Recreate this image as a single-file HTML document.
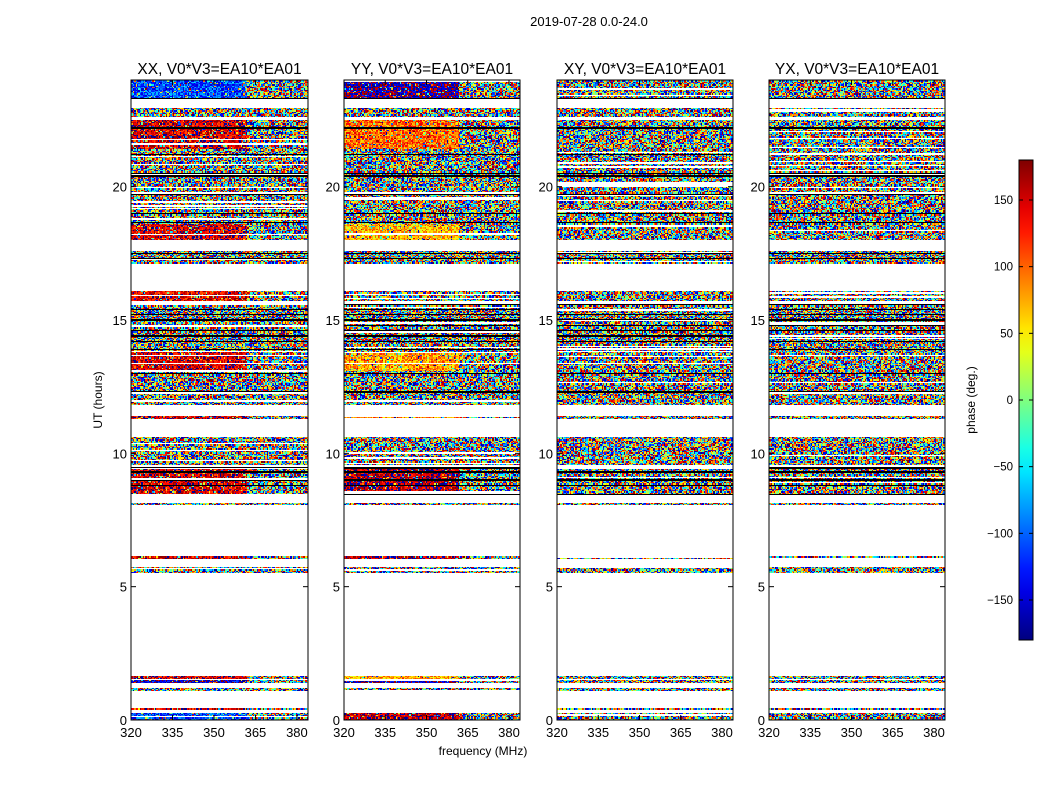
<!DOCTYPE html>
<html><head><meta charset="utf-8">
<style>
body{margin:0;background:#fff;width:1050px;height:800px;overflow:hidden;font-family:"Liberation Sans",sans-serif}
#wrap{position:relative;width:1050px;height:800px}
canvas{position:absolute;image-rendering:pixelated}
svg{position:absolute;left:0;top:0}
text{font-family:"Liberation Sans",sans-serif;fill:#000}
</style></head><body>
<div id="wrap">
<canvas id="c0" width="177" height="640" style="left:131px;top:80px;width:177px;height:640px"></canvas>
<canvas id="c1" width="176" height="640" style="left:344px;top:80px;width:176px;height:640px"></canvas>
<canvas id="c2" width="176" height="640" style="left:557px;top:80px;width:176px;height:640px"></canvas>
<canvas id="c3" width="176" height="640" style="left:769px;top:80px;width:176px;height:640px"></canvas>
<svg id="s" width="1050" height="800"></svg>
</div>
<script>
const panelTitles=["XX, V0*V3=EA10*EA01","YY, V0*V3=EA10*EA01","XY, V0*V3=EA10*EA01","YX, V0*V3=EA10*EA01"];
const panelX=[131,344,557,769];
const panelW=[177,176,176,176];
const yTicks=[0,5,10,15,20];
const xTicks=[320,335,350,365,380];
const cbTicks=[150,100,50,0,-50,-100,-150];
// segments: [startHour, endHour, XX coherent phase, YY coherent phase] (null = noise)
const segStart=[0.0,0.37,1.1,1.4,1.55,5.5,6.05,8.05,8.45,9.55,11.3,11.8,13.1,13.8,15.7,17.1,18.0,18.6,21.4,22.6,23.3];
const segEnd=[0.27,0.45,1.2,1.5,1.65,5.75,6.15,8.15,9.5,10.6,11.4,13.1,13.8,15.6,16.1,17.6,18.6,21.4,22.5,22.95,24.0];
const segXX=[-110,150,null,-150,150,null,150,null,150,null,150,null,150,null,140,null,150,null,150,null,-110];
const segYY=[160,-160,null,-160,70,null,160,null,160,null,80,null,80,null,null,null,70,null,100,null,-170];
const blackLines=[5.5,6.0,8.45,8.8,9.0,9.3,9.45,11.8,12.3,13.0,13.9,14.2,14.4,14.6,14.8,15.0,15.2,15.4,15.6,17.3,17.5,18.65,19.0,19.7,20.4,20.5,21.2,22.2,23.3];
const tMin=0,tMax=24,fMin=320,fMax=384;
const yScale=h=>720-(h-tMin)/(tMax-tMin)*640;

function jet(v){
  const f=x=>Math.max(0,Math.min(1,x));
  const r=f(1.5-Math.abs(4*v-3)),g=f(1.5-Math.abs(4*v-2)),b=f(1.5-Math.abs(4*v-1));
  return [r*255|0,g*255|0,b*255|0];
}
function hash(a,b,c){let h=(a*374761393+b*668265263+c*2147483647)|0;h=(h^(h>>>13))*1274126177|0;h^=h>>>16;return ((h>>>0)%100000)/100000;}

for(let p=0;p<4;p++){
  const cv=document.getElementById('c'+p),ctx=cv.getContext('2d');
  const W=cv.width,H=640,img=ctx.createImageData(W,H);
  for(let y=0;y<H;y++){
    const hr=tMax-(y+0.5)/H*(tMax-tMin);
    let si=-1;for(let i=0;i<segStart.length;i++)if(hr>=segStart[i]&&hr<segEnd[i])si=i;
    const row=Math.floor(y/1.3);
    const isBlack=blackLines.some(b=>Math.abs(b-hr)<0.025);
    const whiteRow=si>=0&&hash(row,p,7)<0.08;
    for(let x=0;x<W;x++){
      let col=[255,255,255];
      if(si>=0&&!whiteRow){
        if(isBlack){col=[0,0,0];}
        else{
          const ch=Math.floor(x/1.38);
          const freq=fMin+(x+0.5)/W*(fMax-fMin);
          const ph=p===0?segXX[si]:p===1?segYY[si]:null;
          let val;
          if(ph!==null&&freq<362){val=ph+(hash(ch,row,p)-0.5)*90;if(hash(ch,row,p+9)<0.15)val=(hash(ch,row,3)-0.5)*360;}
          else val=(hash(ch,row,p+1)-0.5)*360;
          if(val>180)val-=360;if(val<-180)val+=360;
          col=jet((val+180)/360);
        }
      }
      const k=(y*W+x)*4;img.data[k]=col[0];img.data[k+1]=col[1];img.data[k+2]=col[2];img.data[k+3]=255;
    }
  }
  ctx.putImageData(img,0,0);
}

const s=document.getElementById('s');
function el(tag,attrs,txt){const e=document.createElementNS('http://www.w3.org/2000/svg',tag);for(const k in attrs)e.setAttribute(k,attrs[k]);if(txt!==undefined)e.textContent=txt;s.appendChild(e);return e;}
let t=el('text',{x:589,y:26,'font-size':13,'text-anchor':'middle'},'2019-07-28 0.0-24.0');


for(let p=0;p<4;p++){
  const x0=panelX[p],w=panelW[p],xS=f=>x0+(f-fMin)/(fMax-fMin)*w;
  let r=el('rect',{x:x0,y:80,width:w,height:640,fill:'none',stroke:'#000','stroke-width':1});
  
  
  let tt=el('text',{x:x0+w/2,y:74,'font-size':15.5,'text-anchor':'middle'},panelTitles[p]);
  
  
  yTicks.forEach(v=>{const y=yScale(v);
    el('line',{x1:x0,x2:x0+5,y1:y,y2:y,stroke:'#000'});el('line',{x1:x0+w-5,x2:x0+w,y1:y,y2:y,stroke:'#000'});
    const l=el('text',{x:x0-4,y:y+5,'font-size':13,'text-anchor':'end'},v);
    
    });
  xTicks.forEach(v=>{const x=xS(v);
    el('line',{x1:x,x2:x,y1:720,y2:715,stroke:'#000'});el('line',{x1:x,x2:x,y1:80,y2:85,stroke:'#000'});
    const l=el('text',{x:x,y:737,'font-size':13,'text-anchor':'middle'},v);
    
    });
}
t=el('text',{x:483,y:755,'font-size':12,'text-anchor':'middle'},'frequency (MHz)');


t=el('text',{x:0,y:0,'font-size':12,'text-anchor':'middle',transform:'translate(102,400) rotate(-90)'},'UT (hours)');


const defs=el('defs',{});const g=document.createElementNS('http://www.w3.org/2000/svg','linearGradient');
g.setAttribute('id','jg');g.setAttribute('x1',0);g.setAttribute('y1',1);g.setAttribute('x2',0);g.setAttribute('y2',0);defs.appendChild(g);
for(let i=0;i<=20;i++){const c=jet(i/20);const st=document.createElementNS('http://www.w3.org/2000/svg','stop');st.setAttribute('offset',i/20);st.setAttribute('stop-color',`rgb(${c})`);g.appendChild(st);}
const cbY=v=>400-v*(480/360);
let cb=el('rect',{x:1019,y:160,width:14,height:480,fill:'url(#jg)',stroke:'#000'});


cbTicks.forEach(v=>{const y=cbY(v);el('line',{x1:1019,x2:1023,y1:y,y2:y,stroke:'#000'});el('line',{x1:1029,x2:1033,y1:y,y2:y,stroke:'#000'});
  const l=el('text',{x:1013,y:y+4,'font-size':11.5,'text-anchor':'end'},v<0?'\u2212'+(-v):v);
  
  });
t=el('text',{x:0,y:0,'font-size':12,'text-anchor':'middle',transform:'translate(975,400) rotate(-90)'},'phase (deg.)');


</script>
</body></html>
